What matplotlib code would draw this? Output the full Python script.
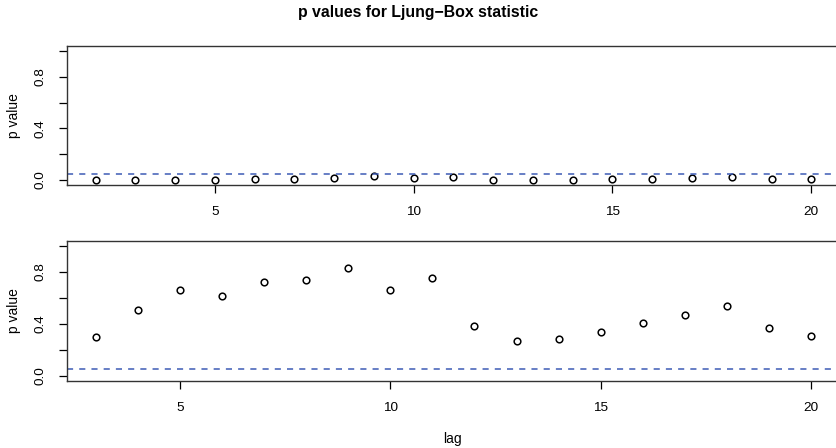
import matplotlib
matplotlib.use("Agg")
import matplotlib.pyplot as plt

plt.rcParams['font.family'] = ['Liberation Sans', 'DejaVu Sans']

# Ljung-Box p values
lags_top = [2, 3, 4, 5, 6, 7, 8, 9, 10, 11, 12, 13, 14, 15, 16, 17, 18, 19, 20]
pvals_top = [0.002, 0.0, 0.0, 0.002, 0.005, 0.01, 0.018, 0.028, 0.016, 0.026,
             0.003, 0.0, 0.002, 0.005, 0.008, 0.013, 0.02, 0.005, 0.005]

lags_bottom = [3, 4, 5, 6, 7, 8, 9, 10, 11, 12, 13, 14, 15, 16, 17, 18, 19, 20]
pvals_bottom = [0.296, 0.509, 0.661, 0.612, 0.725, 0.741, 0.833, 0.661, 0.751,
                0.381, 0.268, 0.283, 0.337, 0.409, 0.471, 0.535, 0.368, 0.306]

sig_level = 0.05
x_ticks = [5, 10, 15, 20]
y_ticks = [0.0, 0.2, 0.4, 0.6, 0.8, 1.0]
y_ticklabels = ["0.0", "", "0.4", "", "0.8", ""]

fig = plt.figure(figsize=(8.37, 4.48), dpi=100)
ax1 = fig.add_axes([0.080, 0.5866, 0.9235, 0.3114])
ax2 = fig.add_axes([0.080, 0.1498, 0.9235, 0.3125])


def r_panel(ax, lags, pvals):
    ax.plot(lags, pvals, 'o', mfc='none', mec='black', ms=4.8, mew=1.1)
    ax.axhline(sig_level, color='#3d5bb5', linestyle=(0, (4, 4)), linewidth=1.1)
    pad = (max(lags) - min(lags)) * 0.04
    ax.set_xlim(min(lags) - pad, max(lags) + pad)
    ax.set_ylim(-0.04, 1.04)
    ax.set_xticks(x_ticks)
    ax.set_yticks(y_ticks)
    ax.set_yticklabels(y_ticklabels, rotation=90, va='center')
    ax.tick_params(axis='x', length=6, width=0.9, pad=9, labelsize=9.7)
    ax.tick_params(axis='y', length=6, width=0.9, pad=9, labelsize=9.7)
    for s in ax.spines.values():
        s.set_linewidth(1.0)
        s.set_color('#333333')
    ax.set_ylabel("p value", fontsize=10)
    ax.yaxis.set_label_coords(-0.060, 0.5)


r_panel(ax1, lags_top, pvals_top)
r_panel(ax2, lags_bottom, pvals_bottom)

fig.text(0.541, 1 - 439 / 448, "lag", ha='center', va='center', fontsize=10)

fig.text(0.5, 0.973, "p values for Ljung\u2212Box statistic", ha='center',
         va='center', fontsize=11.4, fontweight='bold')

fig.savefig("out.png", dpi=100)
